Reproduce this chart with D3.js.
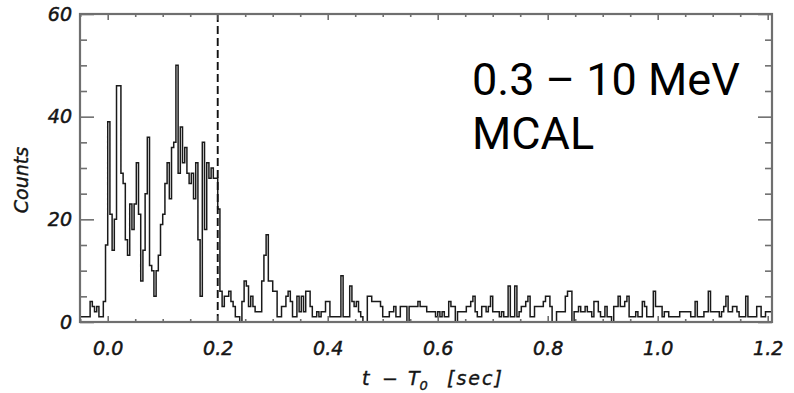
<!DOCTYPE html>
<html>
<head>
<meta charset="utf-8">
<script src="https://cdn.jsdelivr.net/npm/d3@7"></script>
<style>
  html, body { margin: 0; padding: 0; background: #fff; }
  svg { display: block; }
</style>
</head>
<body>
<svg id="chart" width="794" height="393"></svg>
<script>
// Light curve: counts per 4 ms bin, first bin starts at t - T0 = -0.052 s
const binStart = -0.052;
const binWidth = 0.004;
const counts = [
  1, 1, 1, 1, 1, 4, 3, 2, 3, 1, 1, 4, 15,
  39, 21, 14, 20, 46, 46, 29, 27, 16, 13, 23, 18, 23, 31, 21, 8, 14, 25, 36, 11, 10, 5,
  10, 13, 19, 21, 27, 31, 24, 34, 35, 50, 29, 38, 31, 34, 29, 27, 29, 24, 31, 16, 5,
  35, 18, 31, 28, 30, 28, 28,
  22, 6, 3, 5, 5, 6, 4, 3, 1, 1, 0, 4, 8, 7, 3, 5, 3, 2, 2, 2, 8, 13, 17, 8, 8, 6, 6,
  1, 1, 3, 3, 5, 6, 4, 1, 1, 5,
  2, 5, 2, 6, 6, 3, 1, 1, 2, 1,
  2, 2, 4, 4, 1, 1, 1, 1, 1, 9,
  1, 1, 1, 7, 4, 3, 4, 2, 1, 0,
  0, 5, 5, 4, 4, 4, 4, 3, 1, 1,
  1, 2, 2, 3, 1, 1, 3, 3, 3, 0,
  3, 3, 3, 3, 4, 3, 3, 3, 2, 2,
  2, 2, 1, 2, 1, 2, 1, 1, 4, 3,
  3, 0, 2, 2, 2, 2, 3, 3, 4, 5,
  2, 1, 1, 3, 3, 2, 3, 5, 2, 2,
  2, 1, 2, 1, 1, 7, 1, 1, 7, 1,
  2, 3, 3, 4, 5, 1, 1, 3, 3, 3,
  3, 4, 5, 5, 3, 0, 0, 2, 2, 2,
  2, 5, 6, 6, 0, 2, 2, 3, 2, 2,
  3, 2, 2, 1, 4, 4, 2, 1, 1, 3,
  1, 1, 0, 3, 3, 5, 3, 3, 4, 5,
  1, 1, 1, 2, 1, 1, 4, 3, 1, 1,
  1, 6, 3, 3, 3, 1, 2, 2, 1, 1,
  1, 1, 1, 2, 2, 2, 2, 2, 1, 1,
  4, 1, 1, 1, 2, 2, 6, 2, 2, 2,
  2, 1, 2, 3, 5, 2, 2, 3, 3, 2,
  1, 1, 1, 5, 1, 1, 1, 1, 3, 3,
  1, 1, 2, 2, 2
];

// Axis ticks and labels
const xMajorTicks = [0.0, 0.2, 0.4, 0.6, 0.8, 1.0, 1.2];
const xTickLabels = ["0.0", "0.2", "0.4", "0.6", "0.8", "1.0", "1.2"];
const xMinorTicks = [-0.05, 0.05, 0.1, 0.15, 0.25, 0.3, 0.35, 0.45, 0.5, 0.55, 0.65, 0.7, 0.75,
                     0.85, 0.9, 0.95, 1.05, 1.1, 1.15];
const yMajorTicks = [0, 20, 40, 60];
const yTickLabels = ["0", "20", "40", "60"];
const yMinorTicks = [5, 10, 15, 25, 30, 35, 45, 50, 55];

const xDomain = [-0.0504, 1.2078];
const yDomain = [0, 60];
const markerTime = 0.2;
const annotationLines = ["0.3 \u2013 10 MeV", "MCAL"];
const yTitle = "Counts";

const svg = d3.select("#chart");
const plot = { left: 80, right: 772, top: 14, bottom: 322 };
const frameColor = "#6f6f6f";
const inkColor = "#151515";

const x = d3.scaleLinear().domain(xDomain).range([plot.left, plot.right]);
const y = d3.scaleLinear().domain(yDomain).range([plot.bottom, plot.top]);

svg.append("rect").attr("width", 794).attr("height", 393).attr("fill", "#fff");

// Clip so the histogram stays inside the frame
svg.append("defs").append("clipPath").attr("id", "plotClip")
  .append("rect")
  .attr("x", plot.left).attr("y", plot.top)
  .attr("width", plot.right - plot.left).attr("height", plot.bottom - plot.top);

// Histogram as a stepped line
const steps = counts.map((c, i) => ({ t: binStart + i * binWidth, c }));
steps.push({ t: binStart + counts.length * binWidth, c: counts[counts.length - 1] });
const stepLine = d3.line()
  .x(d => x(d.t))
  .y(d => y(d.c))
  .curve(d3.curveStepAfter);

svg.append("path")
  .datum(steps)
  .attr("clip-path", "url(#plotClip)")
  .attr("fill", "none")
  .attr("stroke", "#1a1a1a")
  .attr("stroke-width", 1.5)
  .attr("stroke-linejoin", "miter")
  .attr("d", stepLine);

// Dashed marker at t - T0 = 0.2 s
svg.append("line")
  .attr("x1", x(markerTime)).attr("x2", x(markerTime))
  .attr("y1", y(yDomain[1])).attr("y2", y(yDomain[0]))
  .attr("stroke", "#111")
  .attr("stroke-width", 1.9)
  .attr("stroke-dasharray", "8,4");

// Axes: ticks point inward on all four sides
function styleAxis(g) {
  g.select(".domain").remove();
  g.selectAll(".tick line").attr("stroke", frameColor).attr("stroke-width", 1.6);
  g.selectAll(".tick text")
    .attr("fill", inkColor)
    .attr("stroke", inkColor)
    .attr("stroke-width", 0.5)
    .style("font-family", "'DejaVu Sans', sans-serif")
    .style("font-style", "italic")
    .style("font-size", "19px");
}

const labelFmt = (vals, labels) => d => labels[vals.indexOf(d)];

// bottom
svg.append("g").attr("transform", `translate(0,${plot.bottom})`)
  .call(d3.axisBottom(x).tickValues(xMinorTicks).tickSize(-3).tickFormat(""))
  .call(styleAxis);
svg.append("g").attr("transform", `translate(0,${plot.bottom})`)
  .call(d3.axisBottom(x).tickValues(xMajorTicks).tickSize(-6).tickPadding(20)
    .tickFormat(labelFmt(xMajorTicks, xTickLabels)))
  .call(styleAxis);
// top
svg.append("g").attr("transform", `translate(0,${plot.top})`)
  .call(d3.axisTop(x).tickValues(xMinorTicks).tickSize(-3).tickFormat(""))
  .call(styleAxis);
svg.append("g").attr("transform", `translate(0,${plot.top})`)
  .call(d3.axisTop(x).tickValues(xMajorTicks).tickSize(-6).tickFormat(""))
  .call(styleAxis);
// left
svg.append("g").attr("transform", `translate(${plot.left},0)`)
  .call(d3.axisLeft(y).tickValues(yMinorTicks).tickSize(-7).tickFormat(""))
  .call(styleAxis);
svg.append("g").attr("transform", `translate(${plot.left},0)`)
  .call(d3.axisLeft(y).tickValues(yMajorTicks).tickSize(-14).tickPadding(8)
    .tickFormat(labelFmt(yMajorTicks, yTickLabels)))
  .call(styleAxis);
// right
svg.append("g").attr("transform", `translate(${plot.right},0)`)
  .call(d3.axisRight(y).tickValues(yMinorTicks).tickSize(-7).tickFormat(""))
  .call(styleAxis);
svg.append("g").attr("transform", `translate(${plot.right},0)`)
  .call(d3.axisRight(y).tickValues(yMajorTicks).tickSize(-14).tickFormat(""))
  .call(styleAxis);

// Frame
svg.append("rect")
  .attr("x", plot.left).attr("y", plot.top)
  .attr("width", plot.right - plot.left).attr("height", plot.bottom - plot.top)
  .attr("fill", "none")
  .attr("stroke", frameColor)
  .attr("stroke-width", 2.2);

// X axis title: t − T0 [sec], spaced out in the plotting-package style
const xTitle = svg.append("text")
  .attr("y", 385)
  .attr("fill", inkColor)
  .attr("stroke", inkColor)
  .attr("stroke-width", 0.4)
  .style("font-family", "'DejaVu Sans', sans-serif")
  .style("font-style", "italic")
  .style("font-size", "19px");
xTitle.append("tspan").attr("x", 362).text("t");
xTitle.append("tspan").attr("x", 382).text("\u2212");
xTitle.append("tspan").attr("x", 408).text("T");
xTitle.append("tspan").attr("dy", 5).style("font-size", "13px").text("0");
xTitle.append("tspan").attr("x", 447).attr("dy", -5)
  .style("letter-spacing", "2px").text("[sec]");

svg.append("text")
  .attr("transform", `translate(28,${(plot.top + plot.bottom) / 2 + 12}) rotate(-90)`)
  .attr("text-anchor", "middle")
  .attr("fill", inkColor)
  .attr("stroke", inkColor)
  .attr("stroke-width", 0.4)
  .style("font-family", "'DejaVu Sans', sans-serif")
  .style("font-style", "italic")
  .style("font-size", "19px")
  .text(yTitle);

// Energy band and instrument annotation, set as one two-line block
const note = svg.append("text")
  .style("font-family", "Roboto, 'Noto Sans', sans-serif")
  .style("font-size", "45px")
  .attr("fill", "#000")
  .attr("y", 95);
note.selectAll("tspan")
  .data(annotationLines)
  .join("tspan")
  .attr("x", 472)
  .attr("dy", (d, i) => i === 0 ? 0 : 53.5)
  .text(d => d);
</script>
</body>
</html>
